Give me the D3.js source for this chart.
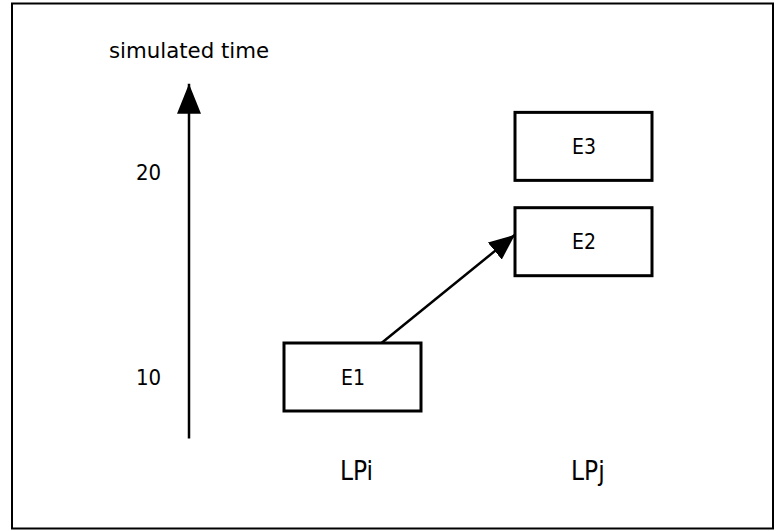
<!DOCTYPE html>
<html>
<head>
<meta charset="utf-8">
<script src="https://cdn.jsdelivr.net/npm/d3@7"></script>
<style>
  body { margin: 0; background: #fff; }
  text { font-family: "DejaVu Sans Condensed", "DejaVu Sans", sans-serif; font-stretch: condensed; fill: #000; }
  text.title { font-family: "DejaVu Sans", sans-serif; font-stretch: normal; }
</style>
</head>
<body>
<div class="canvas"></div>
<script>
// logical processes (columns) and the events scheduled on them
const lanes = ["LPi", "LPj"];
const eventNames = ["E1", "E2", "E3"];
const eventLanes = ["LPi", "LPj", "LPj"];
const eventTimes = [10, 16.6, 21.25];
const timeTicks = [10, 20];
const axisExtent = [7, 24.3];
// message sent from one event to another
const messages = [["E1", "E2"]];

const width = 776, height = 531;
const boxW = 137, boxH = 68;

const svg = d3.select(".canvas").append("svg")
    .attr("width", width)
    .attr("height", height);

const y = d3.scaleLinear().domain([10, 20]).range([377, 172]);
const x = d3.scalePoint().domain(lanes).range([352.5, 583.5]);

const defs = svg.append("defs");
defs.append("marker")
    .attr("id", "head")
    .attr("markerUnits", "userSpaceOnUse")
    .attr("viewBox", "0 0 30 24")
    .attr("refX", 30).attr("refY", 12)
    .attr("markerWidth", 30).attr("markerHeight", 24)
    .attr("orient", "auto")
    .append("path")
    .attr("d", "M0,0 L30,12 L0,24 Z")
    .attr("fill", "#000");
defs.append("marker")
    .attr("id", "headSmall")
    .attr("markerUnits", "userSpaceOnUse")
    .attr("viewBox", "0 0 26 22")
    .attr("refX", 26).attr("refY", 11)
    .attr("markerWidth", 26).attr("markerHeight", 22)
    .attr("orient", "auto")
    .append("path")
    .attr("d", "M0,0 L26,11 L0,22 Z")
    .attr("fill", "#000");

// outer frame
svg.append("rect")
    .attr("x", 12).attr("y", 3.5)
    .attr("width", 761).attr("height", 525)
    .attr("fill", "none")
    .attr("stroke", "#000")
    .attr("stroke-width", 2);

// time axis
const axisX = 189;
svg.append("line")
    .attr("x1", axisX).attr("x2", axisX)
    .attr("y1", y(axisExtent[0])).attr("y2", y(axisExtent[1]))
    .attr("stroke", "#000")
    .attr("stroke-width", 2.5)
    .attr("marker-end", "url(#head)");

svg.append("text")
    .attr("class", "title")
    .attr("x", axisX).attr("y", 57.5)
    .attr("text-anchor", "middle")
    .attr("font-size", 21.3)
    .text("simulated time");

svg.selectAll(".tick")
    .data(timeTicks)
    .join("text")
    .attr("class", "tick")
    .attr("x", 148.5)
    .attr("y", d => y(d) + 0.5)
    .attr("dy", "0.36em")
    .attr("text-anchor", "middle")
    .attr("font-size", 22)
    .text(d => d);

// events
const events = eventNames.map((name, i) => ({
    name: name,
    lane: eventLanes[i],
    time: eventTimes[i]
}));
const byName = new Map(events.map(e => [e.name, e]));

const ev = svg.selectAll(".event")
    .data(events)
    .join("g")
    .attr("class", "event");

ev.append("rect")
    .attr("x", d => x(d.lane) - boxW / 2)
    .attr("y", d => y(d.time) - boxH / 2)
    .attr("width", boxW)
    .attr("height", boxH)
    .attr("fill", "#fff")
    .attr("stroke", "#000")
    .attr("stroke-width", 3);

ev.append("text")
    .attr("x", d => x(d.lane) + 0.5)
    .attr("y", d => y(d.time))
    .attr("dy", "0.36em")
    .attr("text-anchor", "middle")
    .attr("font-size", 21)
    .text(d => d.name);

// message arrows: leave the top of the sender, hit the left side of the receiver
svg.selectAll(".msg")
    .data(messages)
    .join("line")
    .attr("class", "msg")
    .attr("x1", d => x(byName.get(d[0]).lane) + 29)
    .attr("y1", d => y(byName.get(d[0]).time) - boxH / 2)
    .attr("x2", d => x(byName.get(d[1]).lane) - boxW / 2)
    .attr("y2", d => y(byName.get(d[1]).time) - 7)
    .attr("stroke", "#000")
    .attr("stroke-width", 2.5)
    .attr("marker-end", "url(#headSmall)");

// lane labels
svg.selectAll(".lane")
    .data(lanes)
    .join("text")
    .attr("class", "lane")
    .attr("x", d => x(d) - 12.5)
    .attr("y", 479.5)
    .attr("font-size", 26)
    .text(d => d);
</script>
</body>
</html>
